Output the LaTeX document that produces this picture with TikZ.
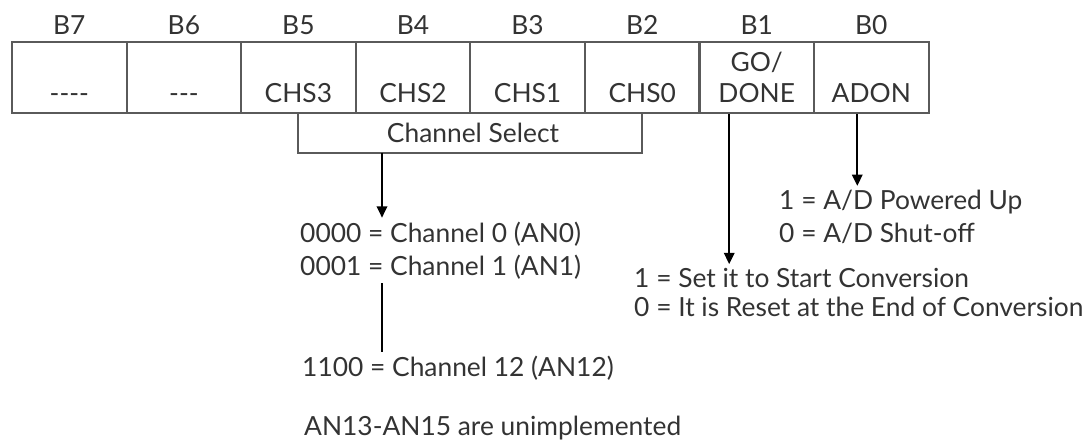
\documentclass[tikz,border=0pt]{standalone}
\usepackage{fontspec}
\setmainfont{Lato}
\usetikzlibrary{arrows.meta}
\definecolor{boxgray}{HTML}{5A5A5A}
\definecolor{txtgray}{HTML}{333333}

\tikzset{
  cell/.style={draw=boxgray, line width=.6pt, minimum width=11.46mm, minimum height=7.1mm,
    align=center, inner sep=0, text=txtgray, font=\fontsize{7.5}{8.6}\selectfont},
  note/.style={anchor=west, inner sep=1pt, text=txtgray, font=\fontsize{7.5}{8.6}\selectfont},
  bracket/.style={draw=boxgray, line width=.6pt},
  arr/.style={-{Triangle[length=3.2pt,width=3pt]}, line width=.5pt},
}

\begin{document}
\begin{tikzpicture}[x=0.1mm, y=-0.1mm]
\useasboundingbox (0,0) rectangle (1089,445);

% register cells
\node[cell, label={[note, anchor=south, yshift=.5pt]above:B7}] (b7) at (69.3,77.5) {\vphantom{GO/}\\{-}{-}{-}{-}};
\node[cell, label={[note, anchor=south, yshift=.5pt]above:B6}] (b6) at (183.9,77.5) {\vphantom{GO/}\\{-}{-}{-}};
\node[cell, label={[note, anchor=south, yshift=.5pt]above:B5}] (b5) at (298.4,77.5) {\vphantom{GO/}\\CHS3};
\node[cell, label={[note, anchor=south, yshift=.5pt]above:B4}] (b4) at (413.0,77.5) {\vphantom{GO/}\\CHS2};
\node[cell, label={[note, anchor=south, yshift=.5pt]above:B3}] (b3) at (527.6,77.5) {\vphantom{GO/}\\CHS1};
\node[cell, label={[note, anchor=south, yshift=.5pt]above:B2}] (b2) at (642.2,77.5) {\vphantom{GO/}\\CHS0};
\node[cell, label={[note, anchor=south, yshift=.5pt]above:B1}] (b1) at (756.7,77.5) {GO/\\DONE};
\node[cell, label={[note, anchor=south, yshift=.5pt]above:B0}] (b0) at (871.3,77.5) {\vphantom{GO/}\\ADON};

% channel select
\coordinate (sel) at (382,153);
\draw[bracket] (b5.south) |- (sel) -| (b2.south);
\node[note, anchor=center] (chsel) at (473,133) {Channel Select};

\node[note] (ch0) at (296,234) {0000 = Channel 0 (AN0)};
\node[note] (ch1) at (296,267) {0001 = Channel 1 (AN1)};
\node[note] (ch12) at (298,368) {1100 = Channel 12 (AN12)};
\node[note] (unimp) at (300,428) {AN13-AN15 are unimplemented};

\draw[arr] (sel) -- (sel |- ch0.north);
\draw[line width=.5pt] (ch1.south -| sel) -- (ch12.north -| sel);

% go/done
\path (b1.south) ++(-27.5,0) coordinate (go);
\node[note] (set1) at (630,278) {1 = Set it to Start Conversion};
\node[note] (set0) at (630,307) {0 = It is Reset at the End of Conversion};
\draw[arr] (go) -- (go |- set1.north);

% adon
\path (b0.south) ++(-14,0) coordinate (adon);
\node[note] (pw1) at (775,202) {1 = A/D Powered Up};
\node[note] (pw0) at (775,233) {0 = A/D Shut-off};
\draw[arr] (adon) -- (adon |- pw1.north);

\end{tikzpicture}
\end{document}
